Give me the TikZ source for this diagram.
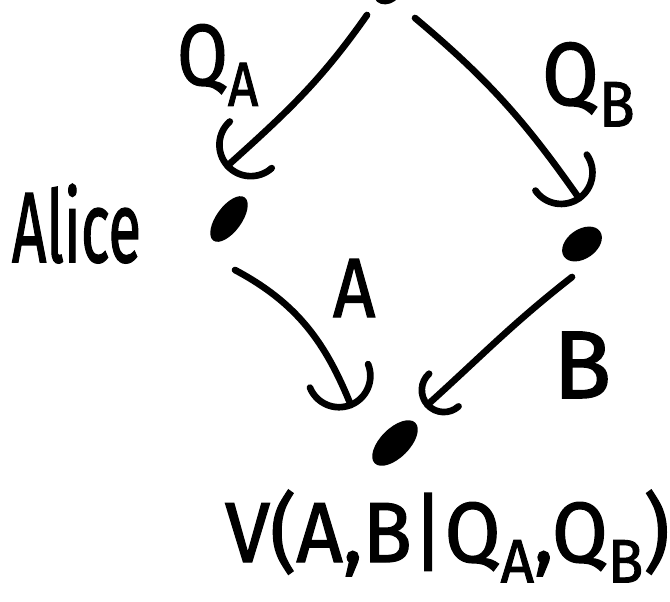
\documentclass[tikz,border=0pt]{standalone}
\usepackage{fontspec}
\setmainfont{Fira Sans}[FakeBold=1.6]
\usetikzlibrary{shapes.geometric,arrows.meta,calc}
\newcommand\lowsub[1]{\raisebox{-0.24em}{\scalebox{0.72}{#1}}}

\begin{document}
\begin{tikzpicture}[x=0.75pt,y=0.75pt,
  dot/.style={ellipse,fill=black,draw=none,inner sep=0pt},
  ink/.style={line width=5pt,line cap=round,line join=round},
  flow/.style={ink,-{Arc Barb[length=26pt,width=52pt,line cap=round]}},
  smallflow/.style={ink,-{Arc Barb[length=19pt,width=38pt,line cap=round]}},
  label/.style={inner sep=0pt,outer sep=0pt,anchor=base west}]
\useasboundingbox (0,0) rectangle (670,-601);

% the four points of the diamond
\node[dot,minimum width=19.5pt,minimum height=15pt,rotate=20] (top) at (387,6) {};
\node[dot,minimum width=40pt,minimum height=19pt,rotate=54] (alice) at (229,-219) {};
\node[dot,minimum width=33pt,minimum height=22pt,rotate=35] (bob) at (582,-244) {};
\node[dot,minimum width=43pt,minimum height=22pt,rotate=45] (out) at (395,-443) {};

% edge labels
\node[label] (qa) at (177,-85) {\scalebox{0.85}[1]{\fontsize{65}{70}\selectfont Q\lowsub{A}}};
\node[label] (qb) at (542,-105) {\scalebox{0.92}[1]{\fontsize{67}{72}\selectfont Q\lowsub{B}}};
\node[label] (la) at (333,-317) {\scalebox{0.88}[1]{\fontsize{63}{68}\selectfont A}};
\node[label] (lb) at (553,-398) {\fontsize{72}{76}\selectfont B};
\node[label] (name) at (12,-262) {\scalebox{0.6}[1]{\fontsize{75}{80}\selectfont Alice}};
\node[label] (val) at (225,-562) {\scalebox{0.95}[1]{\fontsize{64}{68}\selectfont V(A,B|Q\lowsub{A},Q\lowsub{B})}};

% arrows
\draw[flow] ($(top)+(-20,-21)$) to[out=235,in=42] ($(alice)+(-4,51)$);
\draw[flow] ($(top)+(28,-24)$) to[out=320,in=125] ($(bob)+(-1,43)$);
\draw[flow] ($(alice)+(6,-51)$) to[out=332,in=112] ($(out)+(-43,35)$);
\draw[smallflow] ($(bob)+(-10,-33)$) to[out=218,in=42] ($(out)+(30,36)$);
\end{tikzpicture}
\end{document}
